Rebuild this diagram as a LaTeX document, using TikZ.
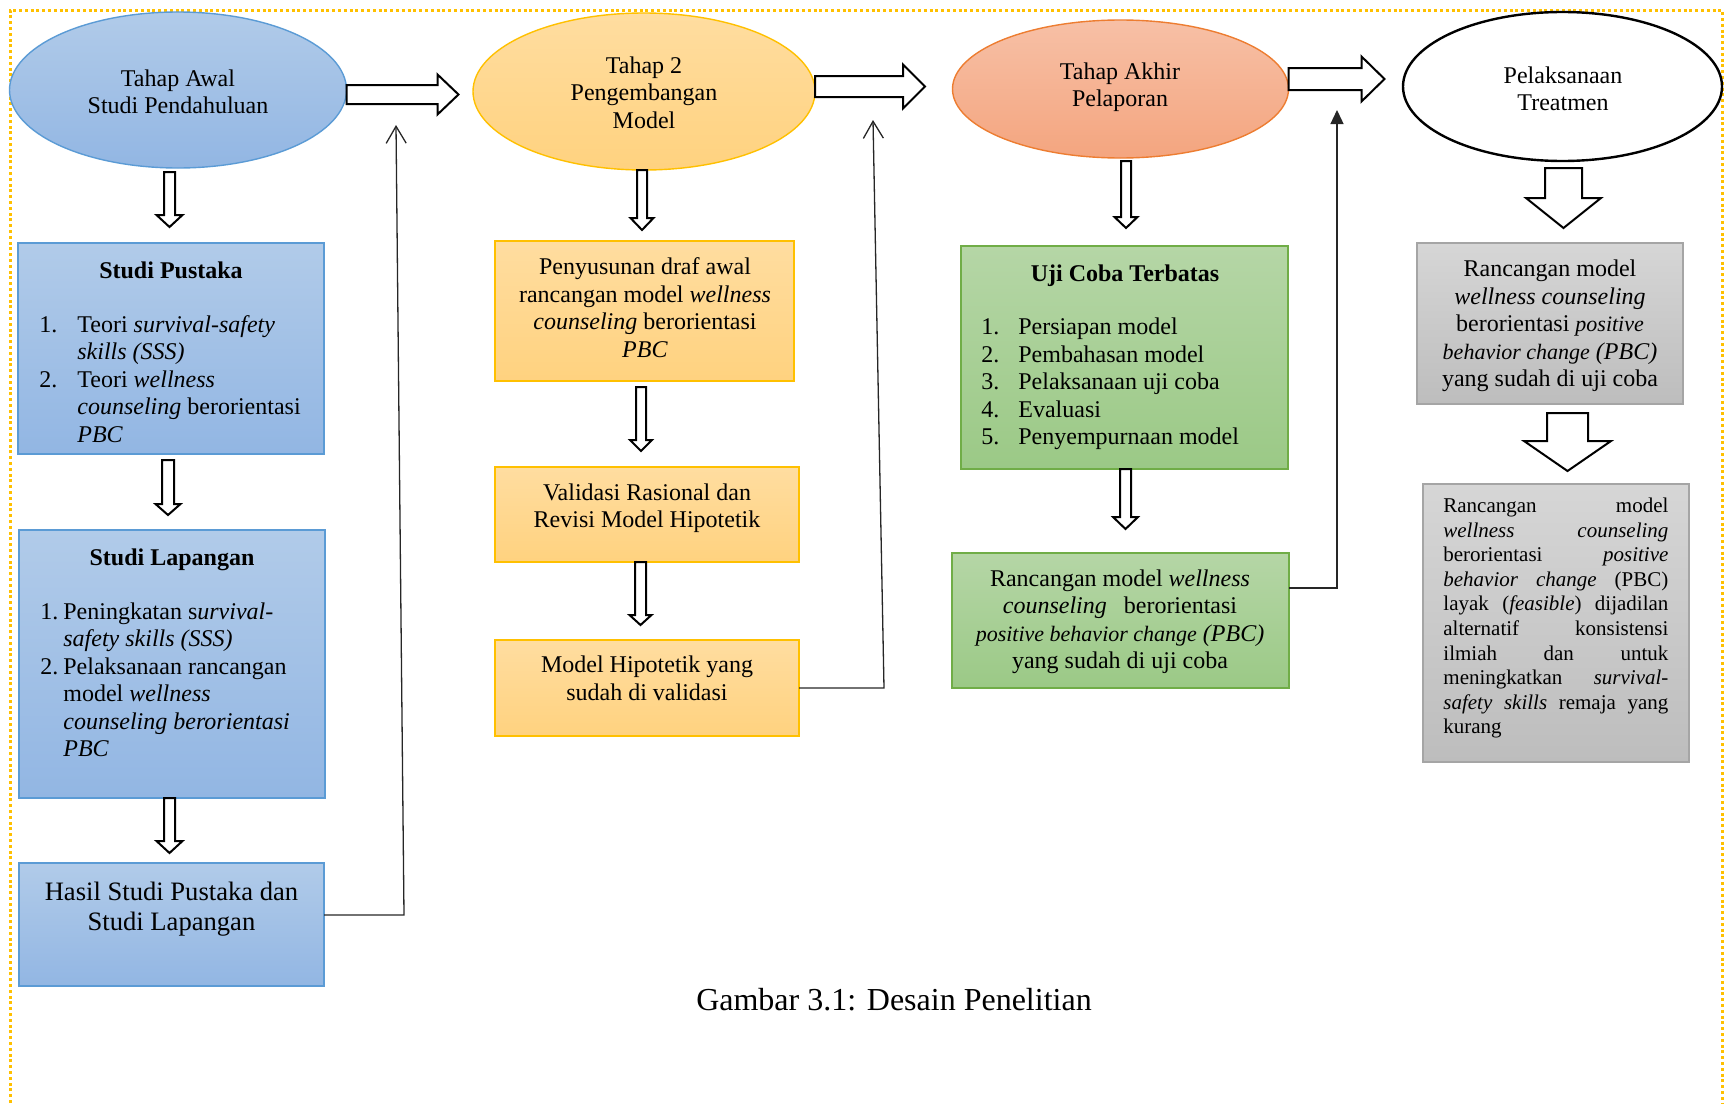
\documentclass[tikz,border=0pt]{standalone}
\usepackage{fontspec}
\setmainfont{Liberation Serif}
\usetikzlibrary{shapes.geometric,arrows.meta,calc}
\definecolor{bluebd}{HTML}{5B9BD5}
\definecolor{bluetop}{HTML}{B1CBE9}
\definecolor{bluebot}{HTML}{92B6E3}
\definecolor{goldbd}{HTML}{FFC000}
\definecolor{goldtop}{HTML}{FFDDA0}
\definecolor{goldbot}{HTML}{FFD27F}
\definecolor{orbd}{HTML}{ED7D31}
\definecolor{ortop}{HTML}{F7C0A6}
\definecolor{orbot}{HTML}{F4A57F}
\definecolor{grbd}{HTML}{70AD47}
\definecolor{grtop}{HTML}{B5D6A6}
\definecolor{grbot}{HTML}{9BC986}
\definecolor{gybd}{HTML}{A5A5A5}
\definecolor{gytop}{HTML}{D6D6D6}
\definecolor{gybot}{HTML}{BDBDBD}
\definecolor{dotc}{HTML}{FFC000}
\newcommand{\rarrow}[5]{%
  \draw[blk] (#1) ++(0,-#4) -- ++(#2,0) -- ++(0,{-(#5-#4)}) -- ++(#3,#5) -- ++({-#3},#5) -- ++(0,{-(#5-#4)}) -- ++({-#2},0) -- cycle;}
\newcommand{\darrow}[5]{%
  \draw[blk] (#1) ++(-#4,0) -- ++(0,#2) -- ++({-(#5-#4)},0) -- ++(#5,#3) -- ++(#5,{-#3}) -- ++({-(#5-#4)},0) -- ++(0,{-#2}) -- cycle;}
\newcommand{\numi}{\makebox[19pt][l]}
\newcommand{\numj}{\hspace*{19pt}}
\newcommand{\smi}[1]{{\fontsize{11}{13.75}\selectfont\textit{#1}}}
\newcommand{\jl}[1]{\makebox[112.5pt][s]{#1}}
\begin{document}
\begin{tikzpicture}[x=0.5pt,y=-0.5pt,
  shp/.style={inner sep=0pt, outer sep=0pt, line width=0.7pt},
  bbox/.style={shp, rectangle, draw=bluebd, top color=bluetop, bottom color=bluebot},
  ybox/.style={shp, rectangle, draw=goldbd, top color=goldtop, bottom color=goldbot},
  gbox/.style={shp, rectangle, draw=grbd, top color=grtop, bottom color=grbot},
  gybox/.style={shp, rectangle, draw=gybd, top color=gytop, bottom color=gybot},
  txt/.style={inner sep=0pt, font=\fontsize{12}{13.75}\selectfont, align=center, yshift=-1.75pt,
    execute at begin node=\strut, execute at end node=\strut},
  ltxt/.style={txt, align=left, anchor=west},
  blk/.style={draw=black, fill=white, line width=1pt, line join=miter},
  conn/.style={draw=black!85, line width=0.65pt}
]
\useasboundingbox (0,0) rectangle (1724,1103);
% frame
\draw[dotc, line width=1.5pt, dash pattern=on 1.5pt off 1.4pt] (10,1103) -- (10,10) -- (1722,10) -- (1722,1103);

% ellipses
\node[shp, ellipse, draw=bluebd, top color=bluetop, bottom color=bluebot, minimum width=168.5pt, minimum height=78pt] (E1) at (178,90) {};
\node[shp, ellipse, draw=goldbd, top color=goldtop, bottom color=goldbot, minimum width=171pt, minimum height=78.5pt] (E2) at (644,91.5) {};
\node[shp, ellipse, draw=orbd, top color=ortop, bottom color=orbot, minimum width=168pt, minimum height=69pt] (E3) at (1120.5,89) {};
\node[shp, ellipse, draw=black, line width=1.2pt, fill=white, minimum width=159.5pt, minimum height=74.5pt] (E4) at (1562.5,86.5) {};
\node[txt] (E1t) at (178,92.5) {Tahap Awal\\Studi Pendahuluan};
\node[txt] (E2t) at (644,93) {Tahap 2\\Pengembangan\\Model};
\node[txt] (E3t) at (1120,85.5) {Tahap Akhir\\Pelaporan};
\node[txt] (E4t) at (1563,89.5) {Pelaksanaan\\Treatmen};

% boxes
\node[bbox, minimum width=153pt, minimum height=105.5pt] (B1) at (171,348.5) {};
\node[bbox, minimum width=153pt, minimum height=134pt] (B2) at (172,664) {};
\node[bbox, minimum width=152.5pt, minimum height=61.5pt] (B3) at (171.5,924.5) {};
\node[ybox, minimum width=149.5pt, minimum height=70pt] (Y1) at (644.5,311) {};
\node[ybox, minimum width=152pt, minimum height=47.5pt] (Y2) at (647,514.5) {};
\node[ybox, minimum width=152pt, minimum height=48pt] (Y3) at (647,688) {};
\node[gbox, minimum width=163.5pt, minimum height=111.5pt] (G1) at (1124.5,357.5) {};
\node[gbox, minimum width=168.5pt, minimum height=67.5pt] (G2) at (1120.5,620.5) {};
\node[gybox, minimum width=133pt, minimum height=80.5pt] (R1) at (1550,323.5) {};
\node[gybox, minimum width=133pt, minimum height=139pt] (R2) at (1556,623) {};

% box texts
\node[txt, font=\fontsize{12}{13.75}\selectfont\bfseries] (B1h) at (171,269) {Studi Pustaka};
\node[ltxt] (B1l) at (39,379.6) {\numi{1.}Teori \textit{survival-safety}\\
\numj\textit{skills (SSS)}\\
\numi{2.}Teori \textit{wellness}\\
\numj\textit{counseling} berorientasi\\
\numj\textit{PBC}};
\node[txt, font=\fontsize{12}{13.75}\selectfont\bfseries] (B2h) at (172,556) {Studi Lapangan};
\node[ltxt] (B2l) at (40,680.5) {\makebox[11.5pt][l]{1.}Peningkatan s\textit{urvival-}\\
\hspace*{11.5pt}\textit{safety skills (SSS)}\\
\makebox[11.5pt][l]{2.}Pelaksanaan rancangan\\
\hspace*{11.5pt}model \textit{wellness}\\
\hspace*{11.5pt}\textit{counseling berorientasi}\\
\hspace*{11.5pt}\textit{PBC}};
\node[txt, font=\fontsize{13.3}{15}\selectfont] (B3t) at (171.5,907) {Hasil Studi Pustaka dan\\Studi Lapangan};

\node[txt] (Y1t) at (645,308) {Penyusunan draf awal\\rancangan model \textit{wellness}\\\textit{counseling} berorientasi\\\textit{PBC}};
\node[txt] (Y2t) at (647,506.5) {Validasi Rasional dan\\Revisi Model Hipotetik};
\node[txt] (Y3t) at (647,679) {Model Hipotetik yang\\sudah di validasi};

\node[txt, font=\fontsize{12}{13.75}\selectfont\bfseries] (G1h) at (1125,272) {Uji Coba Terbatas};
\node[ltxt] (G1l) at (981,382) {\makebox[18.5pt][l]{1.}Persiapan model\\
\makebox[18.5pt][l]{2.}Pembahasan model\\
\makebox[18.5pt][l]{3.}Pelaksanaan uji coba\\
\makebox[18.5pt][l]{4.}Evaluasi\\
\makebox[18.5pt][l]{5.}Penyempurnaan model};
\node[txt] (G2t) at (1120,620) {Rancangan model \textit{wellness}\\\textit{counseling}\hspace{5.5pt} berorientasi\\\smi{positive behavior change} \textit{(PBC)}\\yang sudah di uji coba};

\node[txt] (R1t) at (1550,324) {Rancangan model\\\textit{wellness counseling}\\berorientasi \smi{positive}\\\smi{behavior change} \textit{(PBC)}\\yang sudah di uji coba};
\node[txt, align=left, anchor=west, font=\fontsize{10.5}{12.3}\selectfont] (R2t) at (1443,616) {\jl{Rancangan model}\\
\jl{\textit{wellness counseling}}\\
\jl{berorientasi \textit{positive}}\\
\jl{\textit{behavior change} (PBC)}\\
\jl{layak (\textit{feasible}) dijadilan}\\
\jl{alternatif konsistensi}\\
\jl{ilmiah dan untuk}\\
\jl{meningkatkan \textit{survival-}}\\
\jl{\textit{safety skills} remaja yang}\\
\makebox[112.5pt][l]{kurang}};

\node[txt, font=\fontsize{16}{18}\selectfont, yshift=1.75pt] (cap) at (894,1003) {Gambar 3.1: Desain Penelitian};

% block arrows (horizontal)
\rarrow{$(E1.east)+(0,4.5)$}{91}{21}{9.5}{20}
\rarrow{$(E2.east)+(0,-5)$}{88}{22}{10.5}{22}
\rarrow{$(E3.east)+(0,-10)$}{73}{23}{11}{22.5}

% block arrows (down)
\darrow{$(E1.south)+(-8.5,4)$}{43}{12}{5.5}{13}
\darrow{$(B1.south)+(-3,6)$}{44}{11}{6}{12.5}
\darrow{$(B2.south)+(-2.5,0)$}{43}{12}{5.5}{13}
\darrow{$(E2.south)+(-2,0)$}{48}{12}{5}{11.5}
\darrow{$(Y1.south)+(-3.5,6)$}{53}{11}{5}{11}
\darrow{$(Y2.south)+(-6.5,0)$}{53}{10}{5.5}{11}
\darrow{$(E3.south)+(5.5,3)$}{56}{11}{5}{11.5}
\darrow{$(G1.south)+(1,0)$}{48}{12}{5.5}{12.5}
\darrow{$(E4.south)+(1,7)$}{30}{30}{18.5}{37.5}
\darrow{$(R1.south)+(17.5,9)$}{28}{30}{20.5}{43.5}

% feedback connectors
\coordinate (c1a) at (404,915);
\coordinate (c1b) at (396,125);
\draw[conn, -{Straight Barb[length=8.5pt,width=10pt,line width=0.65pt]}] (B3.east |- c1a) -- (c1a) -- (c1b);
\coordinate (c2a) at (884,688);
\coordinate (c2b) at (873,120);
\draw[conn, -{Straight Barb[length=8.5pt,width=10pt,line width=0.65pt]}] (Y3.east) -- (c2a) -- (c2b);
\coordinate (c3a) at (1337,588);
\coordinate (c3b) at (1337,110);
\draw[conn, -{Triangle[length=7pt,width=6.5pt]}] (G2.east |- c3a) -- (c3a) -- (c3b);
\end{tikzpicture}
\end{document}
